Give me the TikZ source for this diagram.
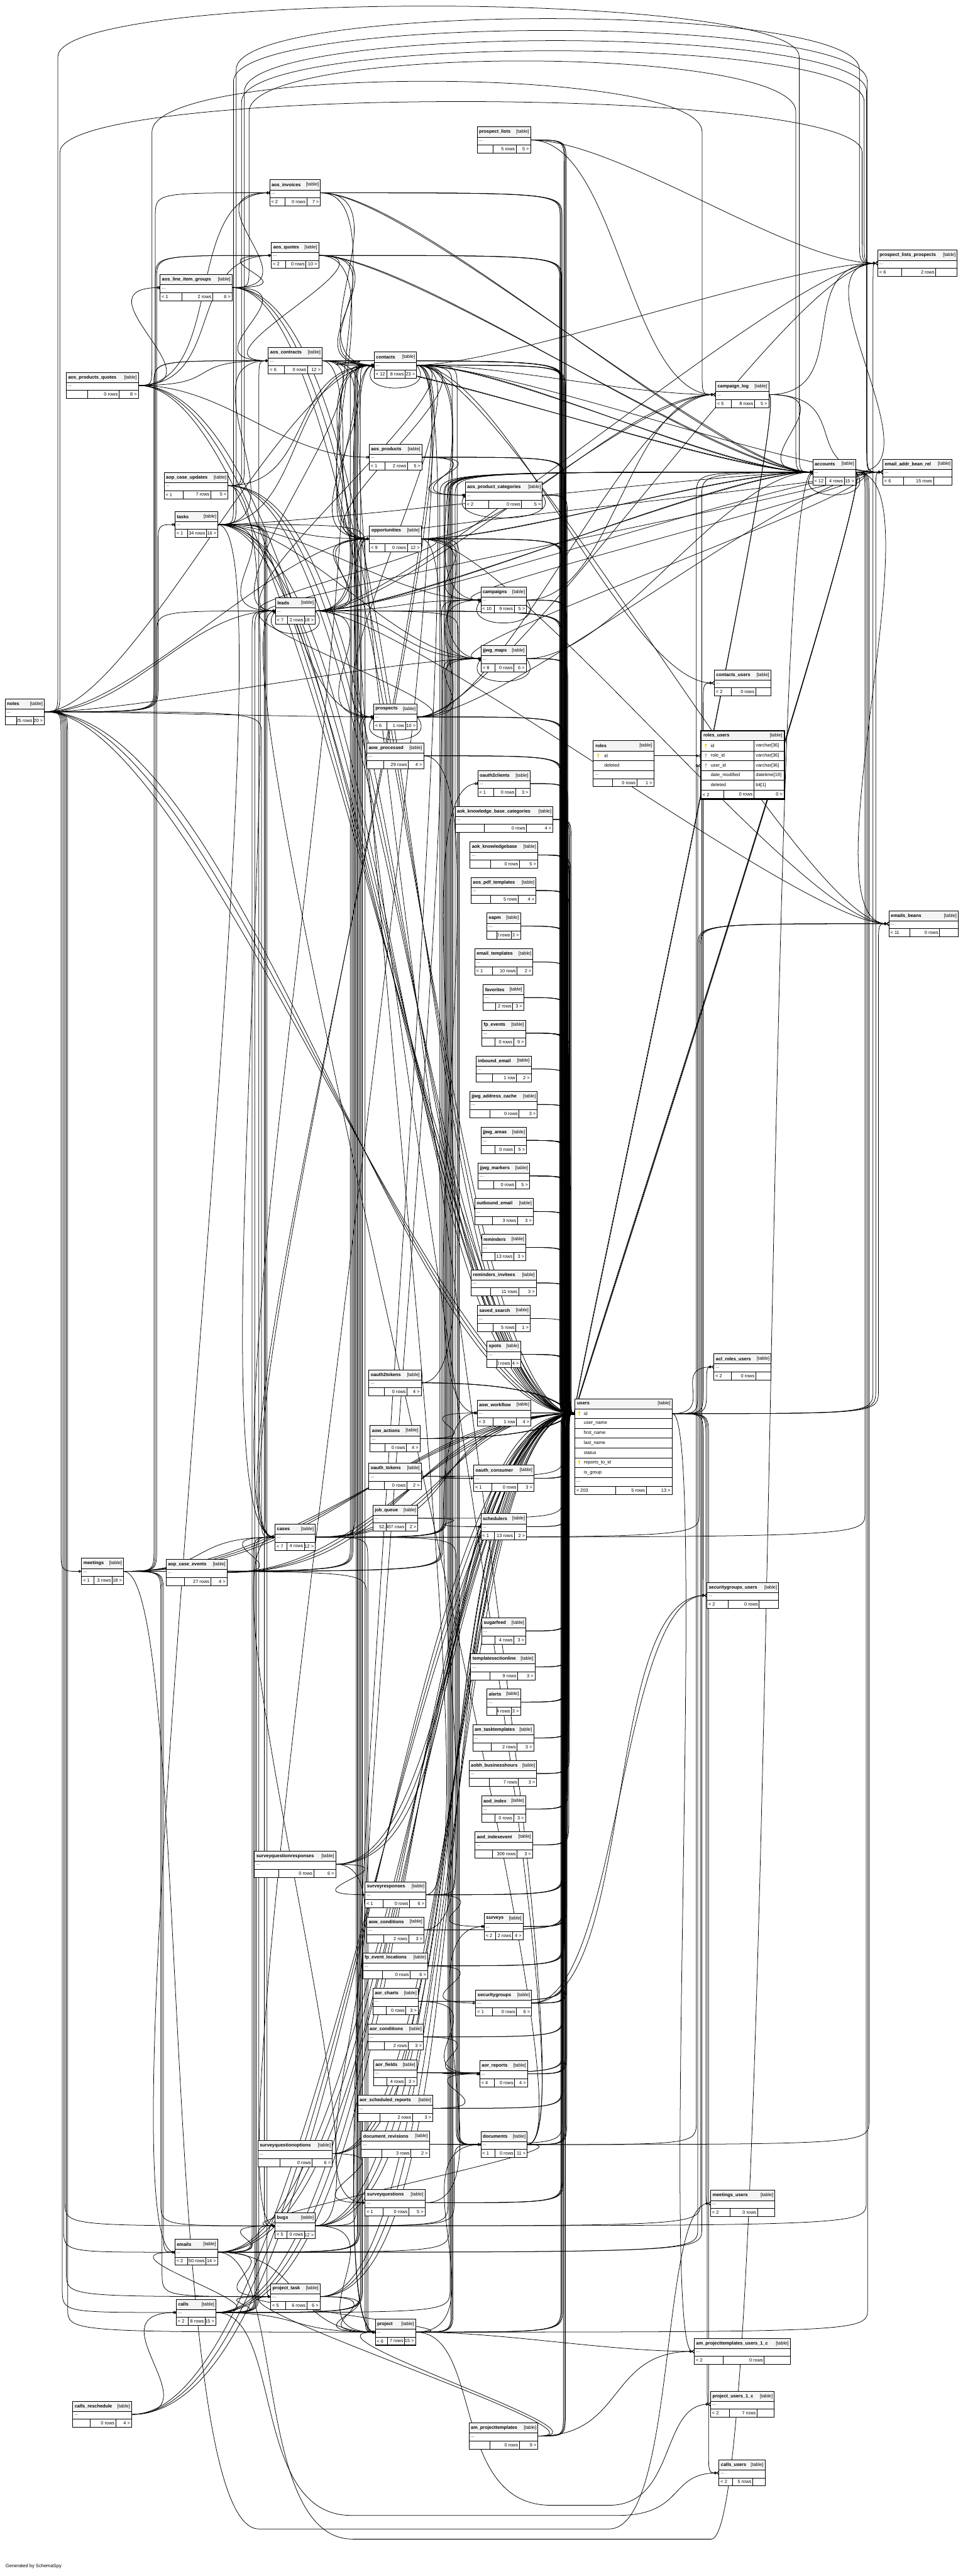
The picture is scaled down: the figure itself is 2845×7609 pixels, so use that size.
\documentclass[tikz,border=0pt]{standalone}
\usepackage{fontspec}
\setmainfont{Liberation Sans}
\usetikzlibrary{arrows.meta,calc}
\pgfdeclarelayer{wires}
\pgfsetlayers{wires,main}
\definecolor{keyyellow}{HTML}{E2D400}
\definecolor{hdrgray}{HTML}{F4F4F4}

\tikzset{
  tblbox/.style={draw=black, fill=white, line width=0.45pt, inner sep=0pt, outer sep=0pt, minimum height=0.77cm},
  rowbox/.style={inner sep=0pt, outer sep=0pt, minimum height=0.29cm},
  hdrfill/.style={fill=hdrgray},
  tblline/.style={line width=0.45pt},
  tname/.style={anchor=west, inner sep=0pt, font=\fontsize{3.9}{4.5}\selectfont\bfseries},
  ttag/.style={anchor=east, inner sep=0pt, font=\fontsize{3.9}{4.5}\selectfont},
  tcell/.style={inner sep=0pt, font=\fontsize{3.9}{4.5}\selectfont},
  fk/.style={line width=0.4pt},
  zo/.style={-{Circle[open,length=2.2pt,width=2.2pt,line width=0.4pt] Bar[width=2.6pt,line width=0.6pt]}},
  crow/.style={-{Circle[open,length=2.2pt,width=2.2pt,line width=0.4pt] Straight Barb[reversed,length=1.6pt,width=2.8pt,line width=0.4pt]}},
}

% one collapsed table: name, x, y, width, parents, rows, children
\newcommand{\dbtable}[7]{%
  \node[tblbox, minimum width={#4*0.01cm}, anchor=north west] (#1) at (#2,#3) {};
  \fill[hdrfill] (#2,#3) rectangle ++(#4,30);
  \draw[tblline] (#2,#3) rectangle ++(#4,77)
    (#2,#3+30) -- ++(#4,0) (#2,#3+53) -- ++(#4,0)
    (#2+0.3*#4,#3+53) -- ++(0,24) (#2+0.73*#4,#3+53) -- ++(0,24);
  \node[tname] at (#2+5,#3+15) {\detokenize{#1}};
  \node[ttag] at (#2+#4-4,#3+15) {[table]};
  \node[tcell, anchor=west] at (#2+4,#3+41) {...};
  \node[tcell, anchor=west] at (#2+4,#3+65) {#5};
  \node[tcell, anchor=east] at (#2+0.73*#4-3,#3+65) {#6};
  \node[tcell, anchor=east] at (#2+#4-4,#3+65) {#7};
}
\newcommand{\keyicon}[3]{%
  \fill[#3] (#1,#2-3) circle[radius=3.5];
  \draw[#3, line width=0.6pt] (#1,#2-3) -- (#1,#2+7);
}
% key that runs along a vertical lane: tip, from, to, lane, offset, direction (1 down, -1 up)
\newcommand{\lanekey}[6]{%
  \draw[fk,#1] (#2.east) .. controls ($(#2.east -| #4)+(#5,0)$) .. ($(#2.east -| #4)+(#5,{#6*70})$)
    -- ($(#3.west -| #4)+(#5,{0-#6*70})$) .. controls ($(#3.west -| #4)+(#5,0)$) .. (#3.west);
}
% key that runs over the top of the picture: tip, from, to, peak, offset
\newcommand{\overkey}[5]{%
  \draw[fk,#1] let \p1=(#2.east), \p2=(#3.west) in
    (\p1) .. controls (\x1+0.4cm+#5*0.01cm,\y1) .. (\x1+0.4cm+#5*0.01cm,\y1+0.7cm)
    -- (\x1+0.4cm+#5*0.01cm,{-(#4+150)*0.01cm})
    .. controls (\x1+0.4cm+#5*0.01cm,{-(#4-50)*0.01cm}) and (\x2-0.4cm-#5*0.01cm,{-(#4-50)*0.01cm}) ..
    (\x2-0.4cm-#5*0.01cm,{-(#4+150)*0.01cm})
    -- (\x2-0.4cm-#5*0.01cm,\y2+0.7cm)
    .. controls (\x2-0.4cm-#5*0.01cm,\y2) .. (\p2);
}
% key that dips under the bottom tables: tip, from, to, depth
\newcommand{\underkey}[4]{%
  \draw[fk,#1] let \p1=(#2.east), \p2=(#3.west) in
    (\p1) .. controls (\x1+2cm,\y1) and (\x1+1cm,{-#4*0.01cm}) .. (\x1+4cm,{-#4*0.01cm})
    -- (\x2-3cm,{-#4*0.01cm}) .. controls (\x2-1cm,{-#4*0.01cm}) and (\x2-1.5cm,\y2) .. (\p2);
}

\begin{document}
\begin{tikzpicture}[x=0.01cm, y=-0.01cm]
\useasboundingbox (0,0) rectangle (2845,7609);
% vertical lanes
\coordinate (laneM) at (180,0);
\coordinate (laneE) at (455,0);
\coordinate (laneB) at (745,0);
\coordinate (laneA) at (1035,0);
\coordinate (laneC) at (1300,0);
\coordinate (trunk) at (1645,0);
\coordinate (laneR) at (2058,0);
\coordinate (laneS) at (2556,0);

% tables
\dbtable{prospect_lists}{1410}{375}{158}{}{5 rows}{5 >}
\dbtable{aos_invoices}{797}{531}{150}{< 2}{0 rows}{7 >}
\dbtable{aos_quotes}{802}{716}{140}{< 2}{0 rows}{10 >}
\dbtable{prospect_lists_prospects}{2594}{739}{235}{< 6}{2 rows}{}
\dbtable{aos_line_item_groups}{473}{811}{213}{< 1}{2 rows}{6 >}
\dbtable{aos_contracts}{793}{1027}{159}{< 6}{0 rows}{12 >}
\dbtable{contacts}{1106}{1040}{125}{< 12}{8 rows}{23 >}
\dbtable{aos_products_quotes}{196}{1100}{213}{}{0 rows}{8 >}
\dbtable{campaign_log}{2115}{1127}{157}{< 5}{8 rows}{5 >}
\dbtable{aos_products}{1091}{1312}{156}{< 1}{2 rows}{5 >}
\dbtable{accounts}{2402}{1356}{127}{< 12}{4 rows}{15 >}
\dbtable{email_addr_bean_rel}{2609}{1356}{205}{< 6}{15 rows}{}
\dbtable{aop_case_updates}{485}{1396}{189}{< 1}{7 rows}{5 >}
\dbtable{aos_product_categories}{1375}{1424}{228}{< 2}{0 rows}{5 >}
\dbtable{tasks}{517}{1511}{127}{< 1}{34 rows}{16 >}
\dbtable{opportunities}{1092}{1553}{153}{< 9}{0 rows}{12 >}
\dbtable{campaigns}{1421}{1734}{135}{< 10}{9 rows}{5 >}
\dbtable{leads}{814}{1766}{118}{< 7}{2 rows}{18 >}
\dbtable{jjwg_maps}{1422}{1907}{133}{< 8}{0 rows}{6 >}
\dbtable{contacts_users}{2111}{1979}{167}{< 2}{0 rows}{}
\dbtable{notes}{15}{2064}{116}{}{25 rows}{20 >}
\dbtable{prospects}{1104}{2079}{129}{< 6}{1 row}{10 >}
\dbtable{aow_processed}{1084}{2194}{168}{}{29 rows}{4 >}
\dbtable{oauth2clients}{1412}{2276}{154}{< 1}{0 rows}{3 >}
\dbtable{aok_knowledge_base_categories}{1345}{2382}{289}{}{0 rows}{4 >}
\dbtable{aok_knowledgebase}{1389}{2487}{200}{}{0 rows}{5 >}
\dbtable{aos_pdf_templates}{1392}{2592}{192}{}{5 rows}{4 >}
\dbtable{emails_beans}{2627}{2690}{205}{< 11}{0 rows}{}
\dbtable{eapm}{1439}{2697}{99}{}{0 rows}{3 >}
\dbtable{email_templates}{1403}{2803}{172}{< 1}{10 rows}{2 >}
\dbtable{favorites}{1428}{2908}{120}{}{2 rows}{3 >}
\dbtable{fp_events}{1424}{3013}{129}{}{0 rows}{9 >}
\dbtable{inbound_email}{1407}{3119}{163}{}{1 row}{2 >}
\dbtable{jjwg_address_cache}{1388}{3224}{200}{}{0 rows}{3 >}
\dbtable{jjwg_areas}{1422}{3330}{134}{}{0 rows}{5 >}
\dbtable{jjwg_markers}{1413}{3435}{152}{}{0 rows}{5 >}
\dbtable{outbound_email}{1403}{3540}{173}{}{3 rows}{3 >}
\dbtable{reminders}{1423}{3646}{131}{}{13 rows}{3 >}
\dbtable{reminders_invitees}{1392}{3751}{193}{}{11 rows}{3 >}
\dbtable{saved_search}{1411}{3856}{156}{}{5 rows}{1 >}
\dbtable{spots}{1439}{3962}{99}{}{0 rows}{4 >}
\dbtable{acl_roles_users}{2110}{3999}{169}{< 2}{0 rows}{}
\dbtable{oauth2tokens}{1090}{4046}{155}{}{0 rows}{4 >}
\dbtable{aow_workflow}{1410}{4135}{159}{< 3}{1 row}{4 >}
\dbtable{aow_actions}{1094}{4211}{147}{}{0 rows}{4 >}
\dbtable{oauth_tokens}{1090}{4322}{155}{}{0 rows}{2 >}
\dbtable{oauth_consumer}{1400}{4328}{178}{< 1}{0 rows}{3 >}
\dbtable{job_queue}{1102}{4446}{133}{}{52,407 rows}{2 >}
\dbtable{schedulers}{1421}{4471}{135}{< 1}{13 rows}{2 >}
\dbtable{cases}{813}{4502}{119}{< 7}{4 rows}{12 >}
\dbtable{meetings}{241}{4603}{124}{< 1}{3 rows}{18 >}
\dbtable{aop_case_events}{491}{4606}{180}{}{27 rows}{4 >}
\dbtable{securitygroups_users}{2089}{4674}{212}{< 2}{0 rows}{}
\dbtable{sugarfeed}{1424}{4779}{130}{}{4 rows}{3 >}
\dbtable{templatesectionline}{1391}{4885}{190}{}{9 rows}{3 >}
\dbtable{alerts}{1439}{4989}{99}{}{4 rows}{3 >}
\dbtable{am_tasktemplates}{1397}{5095}{180}{}{2 rows}{3 >}
\dbtable{aobh_businesshours}{1386}{5200}{200}{}{7 rows}{3 >}
\dbtable{aod_index}{1423}{5305}{130}{}{0 rows}{3 >}
\dbtable{aod_indexevent}{1404}{5411}{170}{}{309 rows}{3 >}
\dbtable{surveyquestionresponses}{752}{5468}{240}{}{0 rows}{6 >}
\dbtable{surveyresponses}{1079}{5558}{180}{< 1}{0 rows}{6 >}
\dbtable{surveys}{1431}{5652}{115}{< 2}{2 rows}{4 >}
\dbtable{aow_conditions}{1084}{5662}{169}{}{2 rows}{3 >}
\dbtable{fp_event_locations}{1072}{5768}{192}{}{0 rows}{6 >}
\dbtable{aor_charts}{1102}{5873}{134}{}{0 rows}{3 >}
\dbtable{securitygroups}{1406}{5878}{165}{< 1}{0 rows}{6 >}
\dbtable{aor_conditions}{1087}{5978}{164}{}{2 rows}{3 >}
\dbtable{aor_fields}{1104}{6084}{128}{}{4 rows}{3 >}
\dbtable{aor_reports}{1418}{6087}{141}{< 4}{0 rows}{4 >}
\dbtable{aor_scheduled_reports}{1057}{6189}{222}{}{2 rows}{3 >}
\dbtable{document_revisions}{1068}{6295}{201}{}{3 rows}{2 >}
\dbtable{documents}{1421}{6296}{137}{< 1}{0 rows}{11 >}
\dbtable{surveyquestionoptions}{762}{6323}{220}{}{0 rows}{6 >}
\dbtable{meetings_users}{2100}{6470}{190}{< 2}{0 rows}{}
\dbtable{surveyquestions}{1079}{6468}{177}{< 1}{0 rows}{5 >}
\dbtable{bugs}{813}{6536}{119}{< 5}{0 rows}{12 >}
\dbtable{emails}{517}{6614}{126}{< 2}{50 rows}{14 >}
\dbtable{project_task}{800}{6745}{146}{< 5}{6 rows}{6 >}
\dbtable{calls}{521}{6792}{117}{< 2}{8 rows}{15 >}
\dbtable{project}{1109}{6850}{119}{< 6}{7 rows}{15 >}
\dbtable{am_projecttemplates_users_1_c}{2052}{6907}{283}{< 2}{0 rows}{}
\dbtable{project_users_1_c}{2100}{7063}{188}{< 2}{7 rows}{}
\dbtable{calls_reschedule}{215}{7093}{174}{}{0 rows}{4 >}
\dbtable{am_projecttemplates}{1386}{7157}{204}{}{0 rows}{9 >}
\dbtable{calls_users}{2125}{7266}{136}{< 2}{5 rows}{}

% roles, with its columns
\node[tblbox, minimum width=1.79cm, minimum height=1.35cm, anchor=north west] (roles) at (1753,2188) {};
\fill[hdrfill] (1753,2188) rectangle ++(179,30);
\draw[tblline] (1753,2188) rectangle ++(179,135)
  (1753,2218) -- ++(179,0) (1753,2247) -- ++(179,0) (1753,2276) -- ++(179,0) (1753,2301) -- ++(179,0)
  (1810,2301) -- ++(0,22) (1882,2301) -- ++(0,22);
\node[rowbox, minimum width=1.79cm, anchor=north west] (roles-id) at (1753,2218) {};
\node[tname] at (1759,2203) {roles};
\node[ttag] at (1928,2203) {[table]};
\keyicon{1768}{2232}{keyyellow}
\node[tcell, anchor=west] at (1785,2232) {id};
\node[tcell, anchor=west] at (1785,2261) {deleted};
\node[tcell, anchor=west] at (1757,2288) {...};
\node[tcell, anchor=east] at (1879,2312) {0 rows};
\node[tcell, anchor=east] at (1928,2312) {1 >};

% roles_users, with its columns
\node[tblbox, line width=1.1pt, minimum width=2.47cm, minimum height=2.02cm, anchor=north west] (roles_users) at (2071,2158) {};
\fill[hdrfill] (2071,2158) rectangle ++(247,30);
\draw[line width=1.1pt] (2071,2158) rectangle ++(247,202);
\draw[tblline] (2071,2188) -- ++(247,0) (2071,2218) -- ++(247,0) (2071,2247) -- ++(247,0)
  (2071,2276) -- ++(247,0) (2071,2305) -- ++(247,0) (2071,2334) -- ++(247,0)
  (2229,2188) -- (2229,2360) (2139,2334) -- ++(0,26);
\node[rowbox, minimum width=2.47cm, anchor=north west] (rolesusers-role) at (2071,2218) {};
\node[rowbox, minimum width=2.47cm, anchor=north west] (rolesusers-user) at (2071,2247) {};
\node[tname] at (2078,2173) {roles\_users};
\node[ttag] at (2313,2173) {[table]};
\keyicon{2086}{2203}{keyyellow}
\keyicon{2086}{2232}{black!30}
\keyicon{2086}{2261}{black!30}
\foreach \c/\t/\r in {id/varchar[36]/2203, role\_id/varchar[36]/2232, user\_id/varchar[36]/2261,
    date\_modified/datetime[19]/2290, deleted/bit[1]/2319} {
  \node[tcell, anchor=west] at (2100,\r) {\c};
  \node[tcell, anchor=west] at (2233,\r) {\t};
}
\node[tcell, anchor=west] at (2076,2347) {< 2};
\node[tcell, anchor=east] at (2225,2347) {0 rows};
\node[tcell, anchor=east] at (2313,2347) {0 >};

% users, with its columns
\node[tblbox, minimum width=2.88cm, minimum height=2.82cm, anchor=north west] (users) at (1699,4132) {};
\fill[hdrfill] (1699,4132) rectangle ++(288,29);
\draw[tblline] (1699,4132) rectangle ++(288,282);
\foreach \r in {4161,4190,4219,4248,4277,4306,4335,4364,4391}
  \draw[tblline] (1699,\r) -- ++(288,0);
\draw[tblline] (1820,4391) -- ++(0,23) (1911,4391) -- ++(0,23);
\node[rowbox, minimum width=2.88cm, anchor=north west] (users-id) at (1699,4161) {};
\node[tname] at (1705,4146) {users};
\node[ttag] at (1982,4146) {[table]};
\foreach \c [count=\i from 0] in {id,user\_name,first\_name,last\_name,status,reports\_to\_id,is\_group}
  \node[tcell, anchor=west] at (1725,4175+29*\i) {\c};
\keyicon{1712}{4175}{keyyellow}
\keyicon{1712}{4320}{keyyellow}
\node[tcell, anchor=west] at (1703,4377) {...};
\node[tcell, anchor=west] at (1703,4403) {< 203};
\node[tcell, anchor=east] at (1907,4403) {5 rows};
\node[tcell, anchor=east] at (1982,4403) {13 >};

\node[anchor=west, inner sep=0pt, font=\fontsize{4}{5}\selectfont] (footer) at (16,7580) {Generated by SchemaSpy};

\begin{pgfonlayer}{wires}
% keys down the trunk into users.id, from tables above it
\foreach \t/\o in {
  prospect_lists/22, prospect_lists/25, prospect_lists/28,
  aos_invoices/10, aos_invoices/13, aos_invoices/16,
  aos_quotes/9, aos_quotes/12, aos_quotes/15,
  aos_contracts/12, aos_contracts/14, aos_contracts/16, aos_contracts/18,
  contacts/20, contacts/23, contacts/26,
  aos_products/18, aos_products/21, aos_products/24,
  aos_product_categories/26, aos_product_categories/29, aos_product_categories/32,
  opportunities/14, opportunities/17, opportunities/20,
  campaigns/24, campaigns/27, campaigns/30,
  leads/10, leads/13, leads/16,
  jjwg_maps/27, jjwg_maps/30, jjwg_maps/33,
  prospects/16, prospects/19, prospects/22,
  aow_processed/12, aow_processed/15, aow_processed/18,
  oauth2clients/28, oauth2clients/31, oauth2clients/34,
  aok_knowledge_base_categories/34, aok_knowledge_base_categories/37, aok_knowledge_base_categories/40, aok_knowledge_base_categories/43,
  aok_knowledgebase/30, aok_knowledgebase/33, aok_knowledgebase/36, aok_knowledgebase/39, aok_knowledgebase/42,
  aos_pdf_templates/28, aos_pdf_templates/31, aos_pdf_templates/34, aos_pdf_templates/37,
  eapm/26, eapm/29, eapm/32,
  email_templates/30, email_templates/33,
  favorites/28, favorites/31, favorites/34,
  fp_events/26, fp_events/29, fp_events/32, fp_events/35, fp_events/38,
  inbound_email/30, inbound_email/33,
  jjwg_address_cache/32, jjwg_address_cache/35, jjwg_address_cache/38,
  jjwg_areas/28, jjwg_areas/31, jjwg_areas/34, jjwg_areas/37, jjwg_areas/40,
  jjwg_markers/30, jjwg_markers/33, jjwg_markers/36, jjwg_markers/39, jjwg_markers/42,
  outbound_email/30, outbound_email/33, outbound_email/36,
  reminders/28, reminders/31, reminders/34,
  reminders_invitees/32, reminders_invitees/35, reminders_invitees/38,
  saved_search/33,
  spots/30, spots/33, spots/36, spots/39}
  {\lanekey{zo}{\t}{users-id}{trunk}{\o}{1}}

% keys up the trunk into users.id, from tables below it
\foreach \t/\o in {
  oauth_tokens/20,
  oauth_consumer/30, oauth_consumer/33, oauth_consumer/36,
  job_queue/20, schedulers/30, schedulers/33,
  sugarfeed/28, sugarfeed/31, sugarfeed/34,
  templatesectionline/30, templatesectionline/33, templatesectionline/36,
  alerts/28, alerts/31, alerts/34,
  am_tasktemplates/30, am_tasktemplates/33, am_tasktemplates/36,
  aobh_businesshours/32, aobh_businesshours/35, aobh_businesshours/38,
  aod_index/28, aod_index/31, aod_index/34,
  aod_indexevent/30, aod_indexevent/33, aod_indexevent/36,
  surveyresponses/16, surveyresponses/19, surveyresponses/22,
  surveys/24, surveys/27, surveys/30,
  aow_conditions/18, aow_conditions/21,
  fp_event_locations/16, fp_event_locations/19, fp_event_locations/22,
  aor_charts/18, aor_charts/21,
  securitygroups/24, securitygroups/27, securitygroups/30,
  aor_conditions/18, aor_conditions/21,
  aor_fields/18, aor_fields/21,
  aor_reports/24, aor_reports/27, aor_reports/30,
  aor_scheduled_reports/16, aor_scheduled_reports/19,
  document_revisions/16,
  documents/24, documents/27, documents/30,
  surveyquestions/14, surveyquestions/17, surveyquestions/20,
  project/12, project/15, project/18,
  am_projecttemplates/20, am_projecttemplates/23, am_projecttemplates/26}
  {\lanekey{zo}{\t}{users-id}{trunk}{\o}{-1}}

% keys from the outer tables, swept straight into users.id
\foreach \t/\d/\e in {
  notes/450/400, notes/520/450, notes/590/500,
  tasks/400/420, tasks/460/470, tasks/520/520,
  aos_products_quotes/500/380, aos_products_quotes/560/430, aos_products_quotes/620/480,
  aos_line_item_groups/450/400, aos_line_item_groups/510/450, aos_line_item_groups/570/500,
  aop_case_updates/450/420, aop_case_updates/510/470, aop_case_updates/570/520,
  meetings/500/420, meetings/560/470, meetings/620/520,
  aop_case_events/420/400, aop_case_events/480/450, aop_case_events/540/500,
  cases/380/380, cases/440/430, cases/500/480,
  calls/500/420, calls/560/470, calls/620/520,
  emails/480/400, emails/540/450, emails/600/500,
  calls_reschedule/550/450, calls_reschedule/610/500, calls_reschedule/670/550,
  bugs/400/380, bugs/460/430, bugs/520/480,
  project_task/400/380, project_task/460/430, project_task/520/480,
  surveyquestionresponses/350/350, surveyquestionresponses/400/400, surveyquestionresponses/450/450,
  surveyquestionoptions/350/350, surveyquestionoptions/400/400, surveyquestionoptions/450/450}
  \draw[fk,zo] (\t.east) .. controls +(\d,0) and +(-\e,0) .. (users-id.west);

% keys level with users.id
\foreach \t/\o in {oauth2tokens/20, oauth2tokens/23, oauth2tokens/26, aow_workflow/30, aow_workflow/33, aow_workflow/36,
    aow_actions/20, aow_actions/23, aow_actions/26}
  \draw[fk,zo] (\t.east) .. controls ($(\t.east -| trunk)+(\o,0)$) and ($(users-id.west -| trunk)+(\o,0)$) .. (users-id.west);

% keys from the right-hand tables back to users.id
\foreach \t/\o in {accounts/40, accounts/44, accounts/48, campaign_log/36, campaign_log/40}
  \draw[fk,zo] (\t.east) .. controls +(70,0) and ($(users-id.west -| trunk)+(\o,0)$) .. (users-id.west);

% other keys along the lanes, zero or one
\foreach \a/\b/\ln/\o/\g in {
  meetings/accounts/laneC/0/-1, meetings/contacts/laneA/0/-1, meetings/opportunities/laneA/4/-1,
  meetings/campaigns/laneC/4/-1, meetings/jjwg_maps/laneC/8/-1, meetings/prospects/laneA/8/-1,
  meetings/aos_contracts/laneE/0/-1, meetings/aos_quotes/laneE/4/-1, meetings/leads/laneE/8/-1,
  cases/accounts/laneC/12/-1, cases/accounts/laneC/15/-1, cases/contacts/laneA/12/-1, cases/contacts/laneA/15/-1,
  cases/jjwg_maps/laneC/18/-1, cases/campaigns/laneC/21/-1,
  bugs/accounts/laneC/24/-1, bugs/contacts/laneA/18/-1, bugs/documents/laneC/42/-1,
  emails/accounts/laneC/27/-1, emails/contacts/laneA/21/-1, emails/leads/laneB/0/-1,
  emails/opportunities/laneA/24/-1, emails/cases/laneB/4/-1, emails/prospects/laneA/27/-1,
  calls/accounts/laneC/30/-1, calls/contacts/laneA/30/-1, calls/leads/laneB/8/-1, calls/opportunities/laneA/33/-1,
  calls/cases/laneB/12/-1, calls/bugs/laneB/16/-1, calls/prospects/laneA/36/-1, calls/aos_contracts/laneB/20/-1,
  project/accounts/laneC/33/-1, project/contacts/laneC/36/-1, project/opportunities/laneC/39/-1,
  documents/accounts/laneR/0/-1, surveyresponses/accounts/laneC/45/-1,
  notes/aos_contracts/laneE/0/-1, notes/aos_invoices/laneE/4/-1, notes/aos_quotes/laneE/8/-1, notes/tasks/laneE/12/-1,
  notes/meetings/laneM/0/1, notes/calls/laneM/4/1, notes/emails/laneM/8/1, notes/bugs/laneM/12/1,
  notes/cases/laneB/28/1, notes/project_task/laneM/16/1, notes/project/laneM/20/1,
  tasks/bugs/laneB/36/1, tasks/cases/laneB/40/1, tasks/project/laneA/44/1, tasks/project_task/laneB/44/1,
  meetings/bugs/laneE/20/1, meetings/project_task/laneE/24/1, meetings/project/laneA/48/1, meetings/emails/laneE/28/1,
  cases/documents/laneC/48/1, cases/project/laneA/52/1, contacts/documents/laneC/51/1,
  leads/documents/laneC/54/1, opportunities/documents/laneC/57/1,
  accounts/cases/laneS/0/1, accounts/bugs/laneS/4/1, accounts/project/laneS/8/1, accounts/documents/laneS/12/1}
  {\lanekey{zo}{\a}{\b}{\ln}{\o}{\g}}

% other keys along the lanes, zero or many
\foreach \a/\b/\ln/\o/\g in {
  emails/emails_beans/laneR/4/-1, cases/emails_beans/laneR/8/-1, bugs/emails_beans/laneR/12/-1,
  emails/email_addr_bean_rel/laneR/16/-1,
  users-id/prospect_lists_prospects/laneS/24/-1, users-id/email_addr_bean_rel/laneS/32/-1,
  users-id/emails_beans/laneS/40/-1,
  users-id/contacts_users/laneR/20/-1, users-id/rolesusers-user/laneR/4/-1, users-id/acl_roles_users/laneR/30/-1,
  users-id/securitygroups_users/laneR/20/1, users-id/meetings_users/laneR/28/1,
  users-id/calls_users/laneR/36/1, users-id/project_users_1_c/laneR/32/1}
  {\lanekey{crow}{\a}{\b}{\ln}{\o}{\g}}

% keys over the top of the picture
\overkey{zo}{notes}{accounts}{18}{0}
\overkey{crow}{tasks}{email_addr_bean_rel}{90}{6}
\overkey{crow}{aop_case_updates}{prospect_lists_prospects}{150}{0}
\overkey{zo}{aos_line_item_groups}{accounts}{180}{10}
\overkey{crow}{aos_products_quotes}{campaign_log}{240}{0}
\overkey{crow}{notes}{prospect_lists_prospects}{300}{6}
\overkey{crow}{tasks}{prospect_lists_prospects}{55}{14}
\overkey{crow}{aop_case_updates}{email_addr_bean_rel}{120}{8}

% keys under the bottom tables
\underkey{crow}{calls}{calls_users}{7430}
\underkey{crow}{meetings}{meetings_users}{7470}
\underkey{crow}{project}{project_users_1_c}{7400}
\underkey{zo}{emails}{accounts}{7500}

% other keys, zero or one
\foreach \a/\b/\l in {
  aos_products_quotes/aos_line_item_groups/0.5, aos_products_quotes/aos_invoices/0.5, aos_products_quotes/aos_quotes/0.5,
  aos_products_quotes/aos_contracts/0.5, aos_products_quotes/aos_products/0.5,
  aos_line_item_groups/aos_invoices/0.5, aos_line_item_groups/aos_quotes/0.5, aos_line_item_groups/aos_contracts/0.5,
  aos_invoices/accounts/0.5, aos_invoices/accounts/0.55, aos_invoices/contacts/0.5, aos_invoices/opportunities/0.5,
  aos_quotes/accounts/0.5, aos_quotes/accounts/0.55, aos_quotes/contacts/0.5, aos_quotes/contacts/0.55,
  aos_quotes/opportunities/0.5, aos_quotes/aos_contracts/0.5,
  aos_contracts/accounts/0.5, aos_contracts/accounts/0.55, aos_contracts/contacts/0.5, aos_contracts/contacts/0.6,
  aos_contracts/opportunities/0.5, aos_contracts/opportunities/0.6, aos_contracts/leads/0.5, aos_contracts/cases/0.5,
  contacts/accounts/0.5, contacts/accounts/0.55, contacts/campaigns/0.5, contacts/leads/0.5, contacts/opportunities/0.6,
  contacts/cases/0.5, contacts/cases/0.55, contacts/bugs/0.5, contacts/project/0.5, contacts/jjwg_maps/0.5,
  contacts/prospects/0.5,
  aos_products/aos_product_categories/0.5, aos_products/aos_product_categories/0.6,
  aop_case_updates/cases/0.5, aop_case_updates/contacts/0.5,
  tasks/accounts/0.5, tasks/contacts/0.5, tasks/leads/0.5, tasks/opportunities/0.5, tasks/prospects/0.5,
  tasks/aos_contracts/0.5, tasks/emails/0.5, tasks/jjwg_maps/0.5, tasks/campaigns/0.5,
  opportunities/accounts/0.5, opportunities/accounts/0.55, opportunities/campaigns/0.5, opportunities/jjwg_maps/0.5,
  opportunities/project/0.5, opportunities/leads/0.5,
  leads/accounts/0.5, leads/accounts/0.55, leads/contacts/0.5, leads/contacts/0.55, leads/opportunities/0.5,
  leads/opportunities/0.55, leads/campaigns/0.5, leads/jjwg_maps/0.5, leads/prospects/0.5,
  jjwg_maps/accounts/0.5,
  notes/contacts/0.5, notes/leads/0.5, notes/opportunities/0.5, notes/prospects/0.5, notes/jjwg_maps/0.5,
  prospects/jjwg_maps/0.5, prospects/campaigns/0.5, prospects/leads/0.5,
  accounts/campaigns/0.5, accounts/leads/0.5, accounts/opportunities/0.5, accounts/jjwg_maps/0.5,
  campaign_log/accounts/0.5,
  aow_processed/aow_workflow/0.5, oauth2tokens/oauth2clients/0.5, aow_actions/aow_workflow/0.5,
  oauth_tokens/oauth_consumer/0.5, job_queue/schedulers/0.5, aow_conditions/aow_workflow/0.5,
  meetings/cases/0.5, aop_case_events/cases/0.5,
  surveyquestionresponses/surveyresponses/0.5, surveyquestionresponses/surveyquestions/0.5,
  surveyresponses/surveys/0.5, surveyresponses/contacts/0.5,
  fp_event_locations/securitygroups/0.5,
  aor_charts/aor_reports/0.5, aor_conditions/aor_reports/0.5, aor_fields/aor_reports/0.5, aor_scheduled_reports/aor_reports/0.5,
  document_revisions/documents/0.5, surveyquestionoptions/surveyquestions/0.5, surveyquestions/surveys/0.5,
  documents/contacts/0.5, documents/opportunities/0.5, documents/leads/0.5, documents/bugs/0.5,
  bugs/project/0.5, bugs/cases/0.5,
  emails/bugs/0.5, emails/project/0.5, emails/project_task/0.5,
  project_task/project/0.5, project_task/project/0.6,
  calls/project/0.5, calls/project_task/0.5, calls/emails/0.5,
  calls_reschedule/calls/0.5,
  project/documents/0.5, project/project_task/0.5,
  am_projecttemplates/project/0.5, am_projecttemplates/project_task/0.5}
  \draw[fk,zo] (\a.east) .. controls +(\l*520,0) and +(-\l*520,0) .. (\b.west);

% other keys, zero or many
\foreach \a/\b/\l in {
  prospect_lists/prospect_lists_prospects/0.5, prospect_lists/campaign_log/0.5,
  contacts/email_addr_bean_rel/0.5, contacts/prospect_lists_prospects/0.5, contacts/contacts_users/0.5,
  contacts/campaign_log/0.5, contacts/emails_beans/0.5,
  campaign_log/email_addr_bean_rel/0.5, campaign_log/prospect_lists_prospects/0.5,
  opportunities/campaign_log/0.5, opportunities/emails_beans/0.5, campaigns/campaign_log/0.5,
  leads/email_addr_bean_rel/0.5, leads/prospect_lists_prospects/0.5, leads/campaign_log/0.5, leads/emails_beans/0.5,
  prospects/campaign_log/0.5, prospects/prospect_lists_prospects/0.5, prospects/email_addr_bean_rel/0.5,
  accounts/email_addr_bean_rel/0.2, accounts/email_addr_bean_rel/0.3, accounts/prospect_lists_prospects/0.5,
  accounts/emails_beans/0.5,
  securitygroups/securitygroups_users/0.5, securitygroups/securitygroups_users/0.6,
  project/am_projecttemplates_users_1_c/0.5,
  am_projecttemplates/am_projecttemplates_users_1_c/0.5,
  users-id/am_projecttemplates_users_1_c/0.2, users-id/acl_roles_users/0.25}
  \draw[fk,crow] (\a.east) .. controls +(\l*520,0) and +(-\l*520,0) .. (\b.west);
\draw[fk,crow] (roles-id.east) -- (rolesusers-role.west);

% self references
\foreach \a in {contacts,accounts,campaigns,leads,jjwg_maps,prospects,aos_product_categories}
  \draw[fk,zo] (\a.east) .. controls +(70,90) and +(-70,90) .. (\a.west);
\end{pgfonlayer}
\end{tikzpicture}
\end{document}
